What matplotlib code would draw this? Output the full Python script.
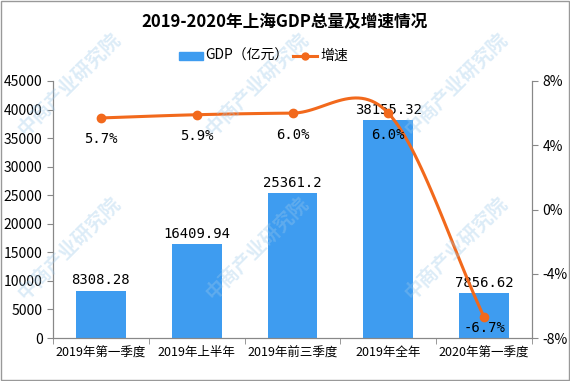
import numpy as np
import matplotlib.pyplot as plt

plt.rcParams['font.family'] = ['Noto Sans CJK SC', 'DejaVu Sans']

categories = ['2019年第一季度', '2019年上半年', '2019年前三季度', '2019年全年', '2020年第一季度']
gdp = [8308.28, 16409.94, 25361.2, 38155.32, 7856.62]
growth = [5.7, 5.9, 6.0, 6.0, -6.7]
gdp_labels = ['8308.28', '16409.94', '25361.2', '38155.32', '7856.62']
growth_labels = ['5.7%', '5.9%', '6.0%', '6.0%', '-6.7%']


def smooth(xs, ys, n=30):
    # catmull-rom through the points, like excel's smoothed line
    xs = np.asarray(xs, float)
    ys = np.asarray(ys, float)
    px = np.concatenate([[2 * xs[0] - xs[1]], xs, [2 * xs[-1] - xs[-2]]])
    py = np.concatenate([[2 * ys[0] - ys[1]], ys, [2 * ys[-1] - ys[-2]]])
    ox, oy = [], []
    for i in range(1, len(px) - 2):
        t = np.linspace(0, 1, n)
        for p, o in ((px, ox), (py, oy)):
            p0, p1, p2, p3 = p[i - 1], p[i], p[i + 1], p[i + 2]
            o.extend(0.5 * ((2 * p1) + (-p0 + p2) * t
                            + (2 * p0 - 5 * p1 + 4 * p2 - p3) * t ** 2
                            + (-p0 + 3 * p1 - 3 * p2 + p3) * t ** 3))
    return ox, oy


fig = plt.figure(figsize=(5.7, 3.81), dpi=100)
ax = fig.add_axes([53 / 570, 43 / 381, 479 / 570, 257 / 381])
ax2 = ax.twinx()

x = np.arange(len(categories))
bar_color = '#3e9cf0'
line_color = '#f2691c'

ax.bar(x, gdp, width=0.52, color=bar_color, zorder=2)
ax.set_xlim(-0.5, 4.5)
ax.set_ylim(0, 45000)
ax.set_yticks(range(0, 45001, 5000))
ax.set_xticks(x)
ax.set_xticklabels(categories, fontsize=9)
ax.set_xticks(np.arange(-0.5, 5, 1), minor=True)
ax.tick_params(axis='x', which='major', length=0, pad=6)
ax.tick_params(axis='x', which='minor', length=4, color='#888888')
ax.tick_params(axis='y', length=4, color='#888888', labelsize=10)
for i, v in enumerate(gdp):
    ax.text(i, v + 600, gdp_labels[i], ha='center', va='bottom', fontsize=10,
            family='DejaVu Sans Mono')

sx, sy = smooth(x, growth)
ax2.plot(sx, sy, color=line_color, lw=2.2, zorder=3)
ax2.plot(x, growth, 'o', color=line_color, ms=6, zorder=4)
ax2.set_ylim(-8, 8)
ax2.set_yticks([-8, -4, 0, 4, 8])
ax2.set_yticklabels(['-8%', '-4%', '0%', '4%', '8%'], fontsize=10)
ax2.tick_params(axis='y', length=4, color='#888888')
for i, v in enumerate(growth):
    if v < 0:
        # last label sits inside the bar, just above the axis
        ax2.text(i, -7.35, growth_labels[i], ha='center', va='center', fontsize=10,
                 family='DejaVu Sans Mono')
    else:
        ax2.text(i, v - 0.9, growth_labels[i], ha='center', va='top', fontsize=10,
                 family='DejaVu Sans Mono')

for a in (ax, ax2):
    a.spines['top'].set_visible(False)
    for s in ('left', 'right', 'bottom'):
        a.spines[s].set_color('#888888')

fig.text(0.5, 1 - 22 / 381, '2019-2020年上海GDP总量及增速情况', ha='center', va='center',
         fontsize=12, fontweight='bold')

# legend
ly = 1 - 56 / 381
fig.patches.append(plt.Rectangle((179 / 570, ly - 4 / 381), 24 / 570, 8 / 381,
                                 transform=fig.transFigure, color=bar_color))
fig.text(205 / 570, ly, 'GDP（亿元）', va='center', fontsize=10)
fig.lines.append(plt.Line2D([293 / 570, 317 / 570], [ly, ly], transform=fig.transFigure,
                            color=line_color, lw=2.2))
fig.lines.append(plt.Line2D([305 / 570], [ly], transform=fig.transFigure,
                            color=line_color, marker='o', ms=5))
fig.text(320 / 570, ly, '增速', va='center', fontsize=10)

# watermark
for wx, wy in [(0.12, 0.78), (0.45, 0.78), (0.8, 0.78), (0.12, 0.35), (0.45, 0.35), (0.8, 0.35)]:
    fig.text(wx, wy, '中商产业研究院', rotation=45, fontsize=14, color='#9cc8ea', alpha=0.35,
             ha='center', va='center', fontweight='bold', zorder=0)

fig.patches.append(plt.Rectangle((0.002, 0.002), 0.996, 0.996, transform=fig.transFigure,
                                 fill=False, ec='#999999', lw=1))

fig.savefig('out.png', dpi=100)
